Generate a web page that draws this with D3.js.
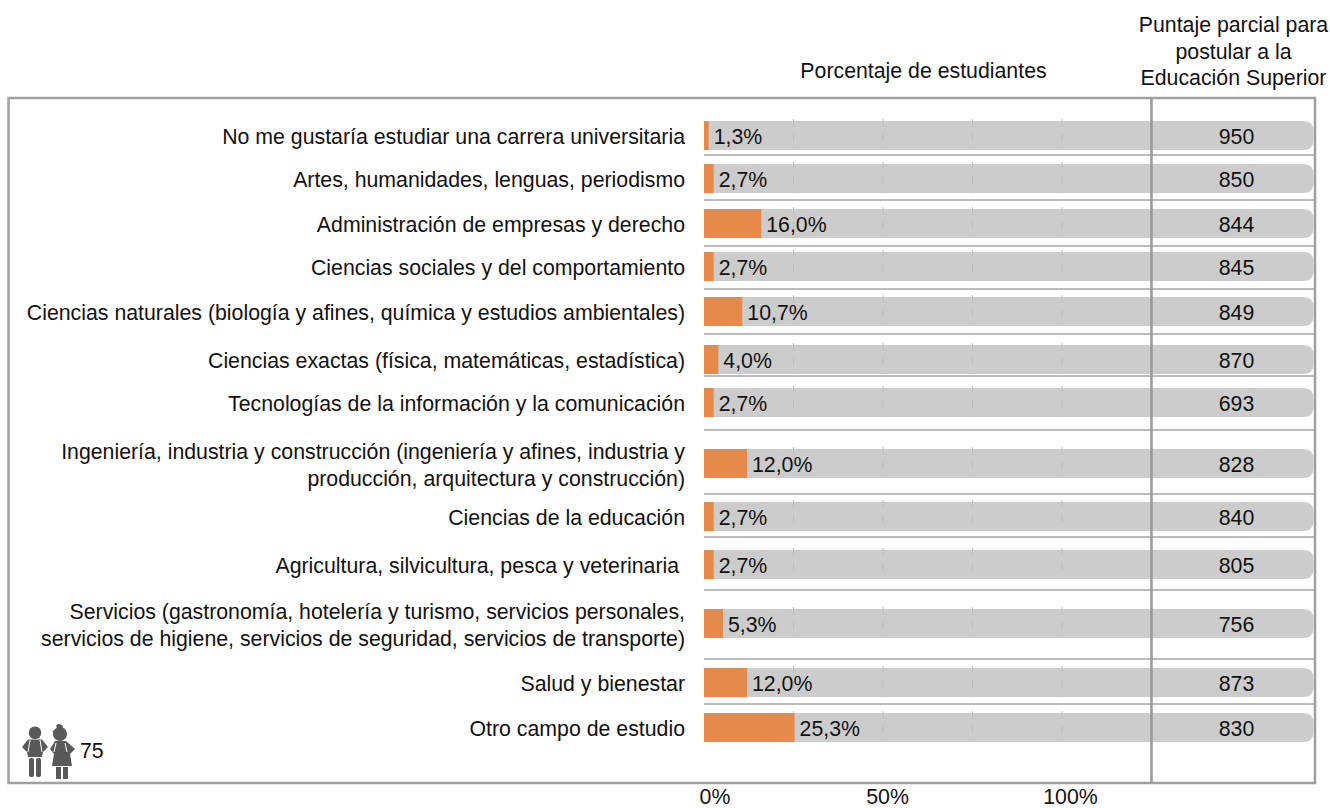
<!DOCTYPE html>
<html>
<head>
<meta charset="utf-8">
<script src="https://cdn.jsdelivr.net/npm/d3@7"></script>
<style>
  html, body { margin: 0; padding: 0; background: #fff; }
  text { font-family: "Liberation Sans", Arial, sans-serif; font-size: 21.3px; fill: #111; }
</style>
</head>
<body>
<div id="chart"></div>
<script>
// one entry per row, a label can take two lines
var campos = [
  ["No me gustaría estudiar una carrera universitaria"],
  ["Artes, humanidades, lenguas, periodismo"],
  ["Administración de empresas y derecho"],
  ["Ciencias sociales y del comportamiento"],
  ["Ciencias naturales (biología y afines, química y estudios ambientales)"],
  ["Ciencias exactas (física, matemáticas, estadística)"],
  ["Tecnologías de la información y la comunicación"],
  ["Ingeniería, industria y construcción (ingeniería y afines, industria y", "producción, arquitectura y construcción)"],
  ["Ciencias de la educación"],
  ["Agricultura, silvicultura, pesca y veterinaria "],
  ["Servicios (gastronomía, hotelería y turismo, servicios personales,", "servicios de higiene, servicios de seguridad, servicios de transporte)"],
  ["Salud y bienestar"],
  ["Otro campo de estudio"]
];
var porcentajes = [1.3, 2.7, 16.0, 2.7, 10.7, 4.0, 2.7, 12.0, 2.7, 2.7, 5.3, 12.0, 25.3];
var puntajes = [950, 850, 844, 845, 849, 870, 693, 828, 840, 805, 756, 873, 830];
var ticks = [25, 50, 75, 100];
var tickLabels = [0, 50, 100];
var totalEstudiantes = 75;

var width = 1330, height = 808;
var barTop = [121, 164, 209, 252, 297, 345, 388, 449, 502, 550, 609, 668, 713];
var sepY = [155, 200, 246, 289, 334, 376, 430, 494, 537, 590, 659, 704];
var barH = 29;
var tickShift = {0: 11, 50: 4.5, 100: 8.5};

var svg = d3.select("#chart").append("svg")
  .attr("width", width).attr("height", height)
  .style("display", "block");

var x = d3.scaleLinear().domain([0, 100]).range([704, 1062]);
var coma = function(v) { return v.toFixed(1).replace(".", ",") + "%"; };

// separators
svg.append("g").selectAll("line").data(sepY).enter().append("line")
  .attr("x1", 704).attr("x2", 1314)
  .attr("y1", function(d) { return d; }).attr("y2", function(d) { return d; })
  .attr("stroke", "#a6a6a6").attr("stroke-width", 1.5);

// grey tracks, rounded on the right only
svg.append("g").selectAll("path").data(barTop).enter().append("path")
  .attr("d", function(t) {
    var r = 10;
    return "M704," + t + "H" + (1313.5 - r) + "Q1313.5," + t + " 1313.5," + (t + r)
      + "V" + (t + barH - r) + "Q1313.5," + (t + barH) + " " + (1313.5 - r) + "," + (t + barH) + "H704Z";
  })
  .attr("fill", "#cccccc");

// dashed grid, only seen over the tracks
var gridRows = svg.append("g").selectAll("g").data(barTop).enter().append("g");
gridRows.selectAll("line").data(function(t) { return ticks.map(function(k) { return {t: t, k: k}; }); })
  .enter().append("line")
  .attr("x1", function(d) { return x(d.k); }).attr("x2", function(d) { return x(d.k); })
  .attr("y1", function(d) { return d.t - 2; }).attr("y2", function(d) { return d.t + barH; })
  .attr("stroke", "#bdbdbd").attr("stroke-dasharray", "7 8");

// orange bars
svg.append("g").selectAll("rect").data(porcentajes).enter().append("rect")
  .attr("x", x(0))
  .attr("y", function(d, i) { return barTop[i]; })
  .attr("width", function(d) { return x(d) - x(0); })
  .attr("height", barH)
  .attr("fill", "#e8894c");

// row labels
var labels = svg.append("g").selectAll("text").data(campos).enter().append("text")
  .attr("text-anchor", "end");
labels.each(function(d, i) {
  var sel = d3.select(this);
  d.forEach(function(line, k) {
    sel.append("tspan").attr("xml:space", "preserve")
      .attr("x", 685)
      .attr("y", barTop[i] + (d.length > 1 ? (k === 0 ? 10 : 37) : 22.5))
      .text(line);
  });
});

// value labels
svg.append("g").selectAll("text").data(porcentajes).enter().append("text")
  .attr("x", function(d) { return x(d) + 5; })
  .attr("y", function(d, i) { return barTop[i] + 22.5; })
  .text(coma);

svg.append("g").selectAll("text").data(puntajes).enter().append("text")
  .attr("x", 1236.5).attr("y", function(d, i) { return barTop[i] + 23; })
  .attr("text-anchor", "middle")
  .text(function(d) { return d; });

// frame and column divider
svg.append("rect").attr("x", 8.5).attr("y", 98).attr("width", 1306.5).attr("height", 685)
  .attr("fill", "none").attr("stroke", "#a0a0a0").attr("stroke-width", 2.5);
svg.append("line").attr("x1", 1151.5).attr("x2", 1151.5).attr("y1", 98).attr("y2", 783)
  .attr("stroke", "#999").attr("stroke-width", 2.5);

// axis labels
svg.append("g").selectAll("text").data(tickLabels).enter().append("text")
  .attr("x", function(d) { return x(d) + tickShift[d]; }).attr("y", 803.5)
  .attr("text-anchor", "middle")
  .text(function(d) { return d + "%"; });

// headers
svg.append("text").attr("x", 923.5).attr("y", 78).attr("text-anchor", "middle")
  .text("Porcentaje de estudiantes");
svg.append("g").selectAll("text")
  .data(["Puntaje parcial para", "postular a la", "Educación Superior"]).enter().append("text")
  .attr("x", 1233.5).attr("y", function(d, i) { return 32 + i * 26.5; })
  .attr("text-anchor", "middle")
  .text(function(d) { return d; });

// students icon
var icon = svg.append("g").attr("fill", "#595959");
icon.append("circle").attr("cx", 35).attr("cy", 732.7).attr("r", 6.3);
icon.append("path").attr("d", "M28,739.5H42L48,747L43,752L42,757H28L27,752L22,747Z");
icon.append("rect").attr("x", 29).attr("y", 758).attr("width", 5).attr("height", 19).attr("rx", 2);
icon.append("rect").attr("x", 36).attr("y", 758).attr("width", 5).attr("height", 19).attr("rx", 2);
icon.append("circle").attr("cx", 60).attr("cy", 734).attr("r", 7);
icon.append("path").attr("d", "M52,731Q56,731 57,728Q55,725 58,724Q63,724 63,728L60,733Q55,735 52,731Z");
icon.append("path").attr("d", "M55,741H66L75,749L70,754L72,766H52L54,754L50,749Z");
icon.append("rect").attr("x", 56).attr("y", 767).attr("width", 5).attr("height", 12);
icon.append("rect").attr("x", 63).attr("y", 767).attr("width", 5).attr("height", 12);
// backpack straps
var straps = svg.append("g").attr("stroke", "#fff").attr("stroke-width", 1).attr("fill", "none");
straps.append("path").attr("d", "M30,740L28,752M40,740L42,752");
straps.append("path").attr("d", "M56,743L54,752M65,743L67,752");
svg.append("text").attr("x", 80).attr("y", 758).text(totalEstudiantes);
</script>
</body>
</html>
